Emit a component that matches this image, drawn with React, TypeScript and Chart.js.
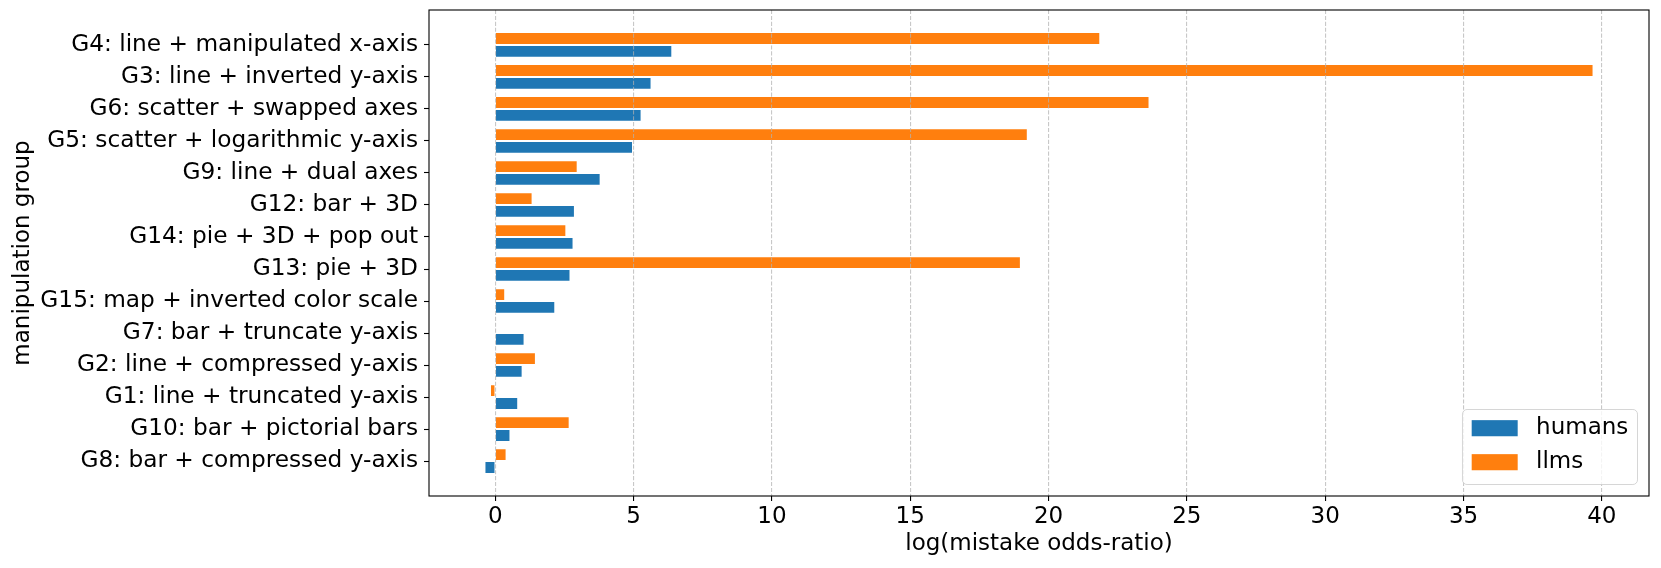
import React, { useEffect, useRef } from 'react';
import { Chart, registerables } from 'chart.js';

Chart.register(...registerables);

const categories = [
  'G4: line + manipulated x-axis',
  'G3: line + inverted y-axis',
  'G6: scatter + swapped axes',
  'G5: scatter + logarithmic y-axis',
  'G9: line + dual axes',
  'G12: bar + 3D',
  'G14: pie + 3D + pop out',
  'G13: pie + 3D',
  'G15: map + inverted color scale',
  'G7: bar + truncate y-axis',
  'G2: line + compressed y-axis',
  'G1: line + truncated y-axis',
  'G10: bar + pictorial bars',
  'G8: bar + compressed y-axis',
];

const humans = [6.4, 5.65, 5.29, 4.98, 3.81, 2.88, 2.83, 2.72, 2.17, 1.06, 0.99, 0.83, 0.55, -0.39];
const llms = [21.87, 39.7, 23.65, 19.25, 2.98, 1.35, 2.57, 19.0, 0.36, 0, 1.47, -0.19, 2.69, 0.41];

const xTickValues = [0, 5, 10, 15, 20, 25, 30, 35, 40];

const seriesNames = ['humans', 'llms'];
const seriesColors = ['#1f77b4', '#ff7f0e'];

const FONT = '"DejaVu Sans", sans-serif';
const FS = 23;
const FS_Y = 23.25;

const frameAndLegend = {
  id: 'frameAndLegend',
  afterDraw(chart: any) {
    const { ctx, chartArea } = chart;
    ctx.save();
    // frame (spines)
    ctx.strokeStyle = '#000';
    ctx.lineWidth = 1.1;
    ctx.strokeRect(chartArea.left, chartArea.top, chartArea.right - chartArea.left, chartArea.bottom - chartArea.top);

    // legend (matplotlib style, lower right)
    const ds = chart.data.datasets;
    const items = seriesNames.map((name) => ds.find((d: any) => d.label === name));
    ctx.font = `${FS}px ${FONT}`;
    const textW = Math.max(...items.map((d: any) => ctx.measureText(d.label).width));
    const pad = 0.4 * FS;
    const handleW = 2 * FS;
    const handleH = 0.7 * FS;
    const textPad = 0.8 * FS;
    const w = pad + handleW + textPad + textW + pad;
    const h = 75;
    const right = chartArea.right - 0.5 * FS;
    const bottom = chartArea.bottom - 0.5 * FS;
    const left = right - w;
    const top = bottom - h;
    ctx.beginPath();
    (ctx as any).roundRect(left, top, w, h, 0.2 * FS);
    ctx.fillStyle = 'rgba(255,255,255,0.8)';
    ctx.fill();
    ctx.strokeStyle = 'rgba(204,204,204,0.8)';
    ctx.lineWidth = 1;
    ctx.stroke();
    const rowY = [top + 18.7, top + 52.7];
    items.forEach((d: any, i: number) => {
      ctx.fillStyle = d.backgroundColor;
      ctx.fillRect(left + pad, rowY[i] - handleH / 2, handleW, handleH);
      ctx.fillStyle = '#000';
      ctx.textBaseline = 'middle';
      ctx.textAlign = 'left';
      ctx.fillText(d.label, left + pad + handleW + textPad, rowY[i]);
    });
    ctx.restore();
  },
};

export default function App() {
  const canvasRef = useRef<HTMLCanvasElement | null>(null);

  useEffect(() => {
    if (!canvasRef.current) return;
    const all = [...humans, ...llms, 0];
    const dMin = Math.min(...all);
    const dMax = Math.max(...all);
    const span = dMax - dMin;
    const xMin = dMin - 0.05 * span;
    const xMax = dMax + 0.05 * span;
    const n = categories.length;
    const yExtent = n - 1 + 0.8;
    const yMin = -0.4 - 0.05 * yExtent;
    const yMax = n - 1 + 0.4 + 0.05 * yExtent;

    Chart.defaults.font.family = FONT;

    const chart = new Chart(canvasRef.current, {
      type: 'bar',
      data: {
        datasets: [
          {
            label: 'llms',
            data: llms.map((v, i) => ({ x: v, y: i })),
            backgroundColor: seriesColors[1],
            borderColor: 'rgba(255,255,255,0.35)',
            borderWidth: 1,
            categoryPercentage: 0.8,
            barPercentage: 1.0,
          },
          {
            label: 'humans',
            data: humans.map((v, i) => ({ x: v, y: i })),
            backgroundColor: seriesColors[0],
            borderColor: 'rgba(255,255,255,0.35)',
            borderWidth: 1,
            categoryPercentage: 0.8,
            barPercentage: 1.0,
          },
        ],
      },
      options: {
        indexAxis: 'y',
        animation: false,
        responsive: false,
        layout: { padding: { top: 10, right: 12, bottom: 0, left: 0 } },
        plugins: {
          legend: { display: false },
          tooltip: { enabled: false },
        },
        scales: {
          x: {
            type: 'linear',
            position: 'bottom',
            offset: false,
            min: xMin,
            max: xMax,
            afterBuildTicks: (scale: any) => {
              scale.ticks = xTickValues.map((v) => ({ value: v }));
            },
            afterFit: (scale: any) => {
              scale.height = 72;
              scale.paddingLeft = 0;
              scale.paddingRight = 0;
            },
            grid: {
              display: true,
              offset: false,
              drawOnChartArea: true,
              drawTicks: true,
              color: 'rgba(176,176,176,0.7)',
              lineWidth: 1.1,
              tickColor: '#000',
              tickLength: 5,
              tickWidth: 1.1,
              tickBorderDash: [],
              z: 1,
            },
            border: { display: false, dash: [4.1, 1.8] },
            ticks: {
              color: '#000',
              font: { size: FS, family: FONT },
              padding: 2,
              maxRotation: 0,
              autoSkip: false,
              callback: (v: any) => String(v),
            },
            title: {
              display: true,
              text: 'log(mistake odds-ratio)',
              color: '#000',
              font: { size: FS, family: FONT },
              padding: { top: 0, bottom: 10 },
            },
          },
          y: {
            type: 'linear',
            position: 'left',
            reverse: true,
            offset: false,
            min: yMin,
            max: yMax,
            afterBuildTicks: (scale: any) => {
              scale.ticks = categories.map((_, i) => ({ value: i }));
            },
            afterFit: (scale: any) => {
              scale.width = 429;
              scale.paddingTop = 0;
              scale.paddingBottom = 0;
            },
            grid: {
              display: true,
              offset: false,
              drawOnChartArea: false,
              drawTicks: true,
              tickColor: '#000',
              tickLength: 5,
              tickWidth: 1.1,
            },
            border: { display: false },
            ticks: {
              color: '#000',
              font: { size: FS_Y, family: FONT },
              padding: 6,
              autoSkip: false,
              callback: (v: any) => categories[v] ?? '',
            },
            title: {
              display: true,
              text: 'manipulation group',
              color: '#000',
              font: { size: FS, family: FONT },
              padding: { top: 9, bottom: 0 },
            },
          },
        },
      } as any,
      plugins: [frameAndLegend],
    });

    return () => {
      chart.destroy();
    };
  }, []);

  return (
    <div style={{ position: 'absolute', left: 0, top: 0, width: 1661, height: 568, background: '#fff' }}>
      <canvas ref={canvasRef} width={1661} height={568} style={{ display: 'block' }} />
    </div>
  );
}
